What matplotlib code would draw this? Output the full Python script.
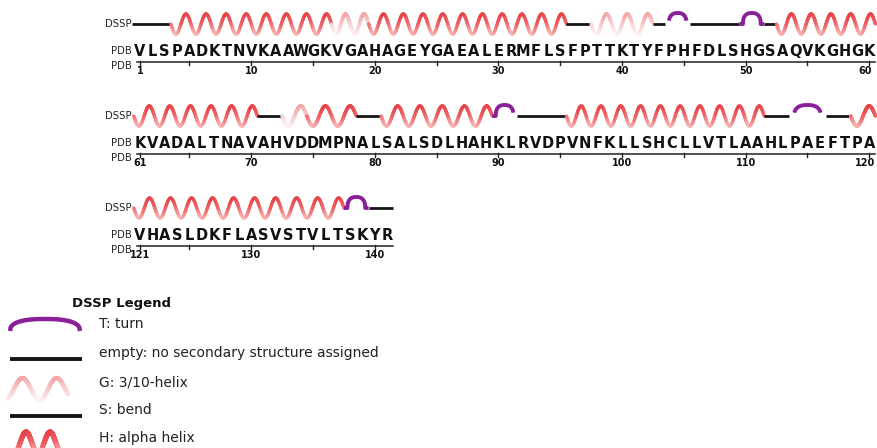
import numpy as np
import matplotlib.pyplot as plt
from matplotlib.collections import LineCollection
from matplotlib.colors import LinearSegmentedColormap

# sequence and DSSP assignment (run lengths per code)
sequence = ("VLSPADKTNVKAAWGKVGAHAGEYGAEALERMFLSFPTTKTYFPHFDLSHGSAQVKGHGK"
            "KVADALTNAVAHVDDMPNALSALSDLHAHKLRVDPVNFKLLSHCLLVTLAAHLPAEFTPA"
            "VHASLDKFLASVSTVLTSKYR")
dssp_runs = [('-', 3), ('H', 13), ('G', 3), ('H', 16), ('-', 2), ('G', 5), ('-', 1),
             ('T', 2), ('-', 4), ('T', 2), ('-', 1), ('H', 8),
             ('H', 10), ('-', 2), ('G', 2), ('H', 4), ('-', 2), ('H', 9), ('T', 2),
             ('-', 4), ('H', 16), ('-', 2), ('T', 3), ('-', 2), ('H', 2),
             ('H', 17), ('T', 2), ('-', 2)]
row_length = 60
legend_codes = ['T', '-', 'G', 'S', 'H']
legend_labels = ['T: turn', 'empty: no secondary structure assigned', 'G: 3/10-helix',
                 'S: bend', 'H: alpha helix']

dssp = ''.join(c * n for c, n in dssp_runs)
assert len(dssp) == len(sequence)

plt.rcParams['font.family'] = 'DejaVu Sans'

X0, DX = 140, 12.36
ROW_Y = [24, 116, 208]

helix_cmap = LinearSegmentedColormap.from_list('h', ['#e8444a', '#f06466', '#f8b4b4'])
g310_cmap = LinearSegmentedColormap.from_list('g', ['#f4a6a8', '#f8cfd0', '#fff4f4'])
PURPLE = '#8a1f99'
BLACK = '#151515'

fig = plt.figure(figsize=(8.77, 4.48), dpi=100)
ax = fig.add_axes([0, 0, 1, 1])
ax.set_xlim(0, 877)
ax.set_ylim(448, 0)
ax.axis('off')


def wave(xa, xb, y0, cmap, amp=10, period=20.5, lw=2.4, n=None, phase=0.0):
    if n is None:
        n = max(1, int(round((xb - xa) / period)))
    x = np.linspace(xa, xb, 300)
    y = y0 + amp * np.sin(2 * np.pi * n * (x - xa) / (xb - xa) + phase)
    pts = np.column_stack([x, y]).reshape(-1, 1, 2)
    segs = np.concatenate([pts[:-1], pts[1:]], axis=1)
    t = ((y[:-1] + y[1:]) / 2 - (y0 - amp)) / (2 * amp)
    ax.add_collection(LineCollection(segs, colors=cmap(t), linewidths=lw, capstyle='round'))


def turn(xa, xb, y0, h=11, frac=0.36, lw=2.8):
    xc = (xa + xb) / 2
    r = frac * (xb - xa)
    x = np.linspace(xc - r, xc + r, 100)
    u = np.abs((x - xc) / r)
    y = y0 - h * (1 - u ** 2.5) ** (1 / 2.5)
    x = np.concatenate([[xa], x, [xb]])
    y = np.concatenate([[y0], y, [y0]])
    ax.plot(x, y, color=PURPLE, lw=lw, solid_capstyle='butt')


def coil(xa, xb, y0, lw=2.0):
    ax.plot([xa, xb], [y0, y0], color=BLACK, lw=lw, solid_capstyle='butt')


n_rows = (len(sequence) + row_length - 1) // row_length
for r in range(n_rows):
    start = r * row_length
    stop = min(start + row_length, len(sequence))
    y0 = ROW_Y[r]
    xpos = lambda i: X0 + (i - start) * DX

    # labels
    ax.text(132, y0, 'DSSP', ha='right', va='center', fontsize=7.3, color='#222222')
    ax.text(132, y0 + 27, 'PDB', ha='right', va='center', fontsize=7.3, color='#222222')
    ax.text(132, y0 + 42, 'PDB', ha='right', va='center', fontsize=7.3, color='#222222')

    # DSSP track: split row into runs
    i = start
    while i < stop:
        j = i
        while j + 1 < stop and dssp[j + 1] == dssp[i]:
            j += 1
        xa, xb = xpos(i) - DX / 2, xpos(j) + DX / 2
        code = dssp[i]
        if code == 'H':
            wave(xa, xb, y0, helix_cmap)
        elif code == 'G':
            wave(xa, xb, y0, g310_cmap)
        elif code == 'T':
            turn(xa, xb, y0)
        else:
            coil(xa - (2 if i == start else 0), xb, y0)
        i = j + 1

    # sequence letters
    for i in range(start, stop):
        ax.text(xpos(i), y0 + 27, sequence[i], ha='center', va='center',
                fontsize=10.5, fontweight='bold', color='#111111')

    # residue axis
    ya = y0 + 38
    ax.plot([xpos(start) - 3, min(xpos(stop - 1) + DX / 2, 877)], [ya, ya], color='#222222', lw=1.1)
    for i in range(start, stop):
        num = i + 1
        if num % 5 == 0 or i == start:
            ax.plot([xpos(i), xpos(i)], [ya - 1, ya + 3], color='#222222', lw=1)
        if num % 10 == 0 or i == start:
            ax.text(min(xpos(i), 865), ya + 9, str(num), ha='center', va='center',
                    fontsize=7.0, fontweight='bold', color='#111111')

# legend
ax.text(72, 303, 'DSSP Legend', ha='left', va='center', fontsize=9.5, fontweight='bold', color='#111111')
legend_y = [324, 353, 382, 410, 438]
for code, label, ty in zip(legend_codes, legend_labels, legend_y):
    ax.text(99, ty, label, ha='left', va='center', fontsize=10, color='#222222')
    if code == 'T':
        turn(10, 80, 331, h=12, frac=0.5, lw=3.2)
    elif code in ('-', 'S'):
        coil(10, 82, ty + 6, lw=2.8)
    elif code == 'G':
        wave(8, 68, 389, g310_cmap, amp=11, n=1.75, phase=np.pi / 2 + 0.5, lw=3.0)
    elif code == 'H':
        wave(14, 62, 443, helix_cmap, amp=11, n=2, phase=np.pi / 2, lw=3.6)

fig.savefig('out.png', dpi=100)
